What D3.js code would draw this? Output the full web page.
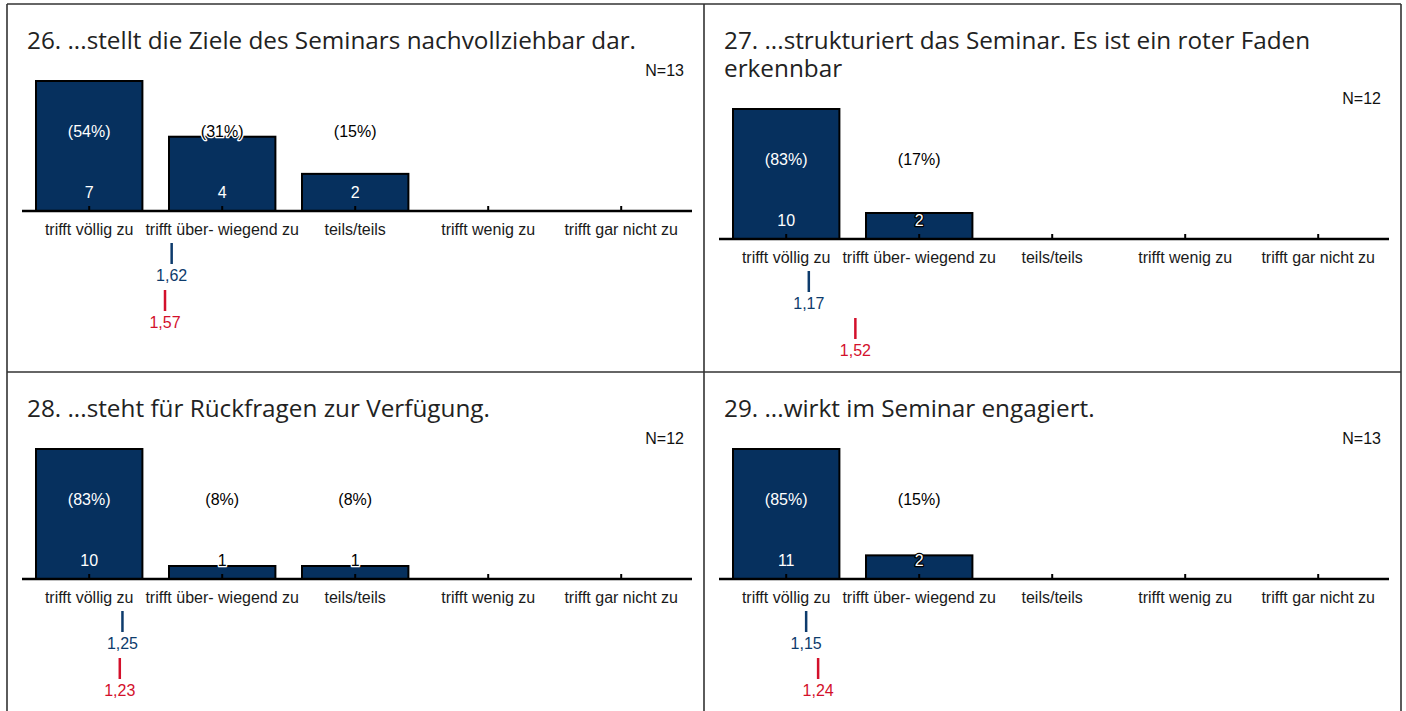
<!DOCTYPE html>
<html>
<head>
<meta charset="utf-8">
<script src="https://cdn.jsdelivr.net/npm/d3@7"></script>
<style>
  body { margin: 0; background: #fff; }
  text { font-family: "Liberation Sans", Arial, sans-serif; }
  .title { font-family: "Open Sans", sans-serif; font-size: 24.3px; fill: #222; }
</style>
</head>
<body>
<svg id="chart" width="1406" height="711"></svg>
<script>
const width = 1406;
const height = 711;

// answer scale, same for all four questions
const categories = ['trifft völlig zu', 'trifft über- wiegend zu', 'teils/teils', 'trifft wenig zu', 'trifft gar nicht zu'];

// title lines per question
const titles = [
  ['26. ...stellt die Ziele des Seminars nachvollziehbar dar.'],
  ['27. ...strukturiert das Seminar. Es ist ein roter Faden', 'erkennbar'],
  ['28. ...steht für Rückfragen zur Verfügung.'],
  ['29. ...wirkt im Seminar engagiert.']
];
const counts = [
  [7, 4, 2, 0, 0],
  [10, 2, 0, 0, 0],
  [10, 1, 1, 0, 0],
  [11, 2, 0, 0, 0]
];
const nValues = [13, 12, 12, 13];
const meanBlue = [1.62, 1.17, 1.25, 1.15];
const meanRed = [1.57, 1.52, 1.23, 1.24];

const panelW = 697, panelH = 368;
const origins = [[7, 4], [704, 4], [7, 372], [704, 372]];

const navy = '#06305e';
const blue = '#0d3b6c';
const red = '#d3102b';
const fs = '16px';

const svg = d3.select('#chart');

const fmt = v => d3.format('.2f')(v).replace('.', ',');

titles.forEach((lines, i) => {
  const [ox, oy] = origins[i];
  const g = svg.append('g').attr('transform', `translate(${ox},${oy})`);
  const extra = (lines.length - 1) * 28;
  const axisY = 207 + extra;

  // title
  g.append('text').attr('class', 'title')
    .selectAll('tspan').data(lines).enter().append('tspan')
    .attr('x', 20).attr('y', (d, k) => 45 + k * 28)
    .text(d => d);

  // N
  g.append('text')
    .attr('x', 677).attr('y', 72 + extra)
    .attr('text-anchor', 'end')
    .style('font-size', fs).style('fill', '#111')
    .text('N=' + nValues[i]);

  const x = d3.scaleBand()
    .domain(categories)
    .range([15.7, 680.7])
    .paddingInner(0.2)
    .paddingOuter(0.1);

  const y = d3.scaleLinear()
    .domain([0, d3.max(counts[i])])
    .range([axisY, axisY - 130]);

  const meanX = d3.scaleLinear()
    .domain([1, 5])
    .range([x(categories[0]) + x.bandwidth() / 2, x(categories[4]) + x.bandwidth() / 2]);

  const rows = categories.map((c, k) => ({ cat: c, n: counts[i][k], pct: Math.round(100 * counts[i][k] / nValues[i]) }));

  // bars
  g.selectAll('rect.bar').data(rows).enter().append('rect')
    .attr('class', 'bar')
    .attr('x', d => x(d.cat))
    .attr('y', d => y(d.n))
    .attr('width', x.bandwidth())
    .attr('height', d => axisY - y(d.n))
    .style('fill', navy)
    .style('stroke', '#000')
    .style('stroke-width', 2);

  // axis line + ticks
  g.append('line')
    .attr('x1', 15).attr('x2', 685)
    .attr('y1', axisY).attr('y2', axisY)
    .style('stroke', '#000').style('stroke-width', 2.5);
  g.selectAll('line.tick').data(categories).enter().append('line')
    .attr('class', 'tick')
    .attr('x1', d => x(d) + x.bandwidth() / 2).attr('x2', d => x(d) + x.bandwidth() / 2)
    .attr('y1', axisY).attr('y2', axisY - 5)
    .style('stroke', '#000').style('stroke-width', 2);

  // category labels
  g.selectAll('text.cat').data(categories).enter().append('text')
    .attr('class', 'cat')
    .attr('x', d => x(d) + x.bandwidth() / 2)
    .attr('y', axisY + 18)
    .attr('text-anchor', 'middle').attr('dominant-baseline', 'central')
    .style('font-size', fs).style('fill', '#1a1a1a')
    .text(d => d);

  // labels on bars: white inside, black outside, haloed when crossing the bar top
  const label = (sel, yPos, txt) => {
    sel.enter().filter(d => d.n > 0).append('text')
      .attr('x', d => x(d.cat) + x.bandwidth() / 2)
      .attr('y', yPos)
      .attr('text-anchor', 'middle').attr('dominant-baseline', 'central')
      .style('font-size', fs)
      .style('paint-order', 'stroke')
      .style('stroke-linejoin', 'round')
      .each(function (d) {
        const top = y(d.n);
        const t = d3.select(this);
        const inside = yPos >= top;
        const crossing = Math.abs(yPos - top) < 8;
        t.style('fill', inside ? '#fff' : '#000');
        if (crossing) t.style('stroke', inside ? '#000' : '#fff').style('stroke-width', 2.5);
      })
      .text(txt);
  };
  label(g.selectAll('text.pct').data(rows), axisY - 80, d => `(${d.pct}%)`);
  label(g.selectAll('text.cnt').data(rows), axisY - 19, d => d.n);

  // mean markers
  const means = [
    { v: meanBlue[i], c: blue, off: 32 },
    { v: meanRed[i], c: red, off: 79 }
  ];
  g.selectAll('line.mean').data(means).enter().append('line')
    .attr('x1', d => meanX(d.v)).attr('x2', d => meanX(d.v))
    .attr('y1', d => axisY + d.off).attr('y2', d => axisY + d.off + 21)
    .style('stroke', d => d.c).style('stroke-width', 2.5);
  g.selectAll('text.mean').data(means).enter().append('text')
    .attr('x', d => meanX(d.v))
    .attr('y', d => axisY + d.off + 32)
    .attr('text-anchor', 'middle').attr('dominant-baseline', 'central')
    .style('font-size', fs).style('fill', d => d.c)
    .text(d => fmt(d.v));
});

// frame lines
const frame = svg.append('g').style('stroke', '#333').style('stroke-width', 1.6);
[7, 704, 1401].forEach(fx => frame.append('line').attr('x1', fx).attr('x2', fx).attr('y1', 4).attr('y2', height));
[4, 372].forEach(fy => frame.append('line').attr('x1', 7).attr('x2', 1401).attr('y1', fy).attr('y2', fy));
</script>
</body>
</html>
